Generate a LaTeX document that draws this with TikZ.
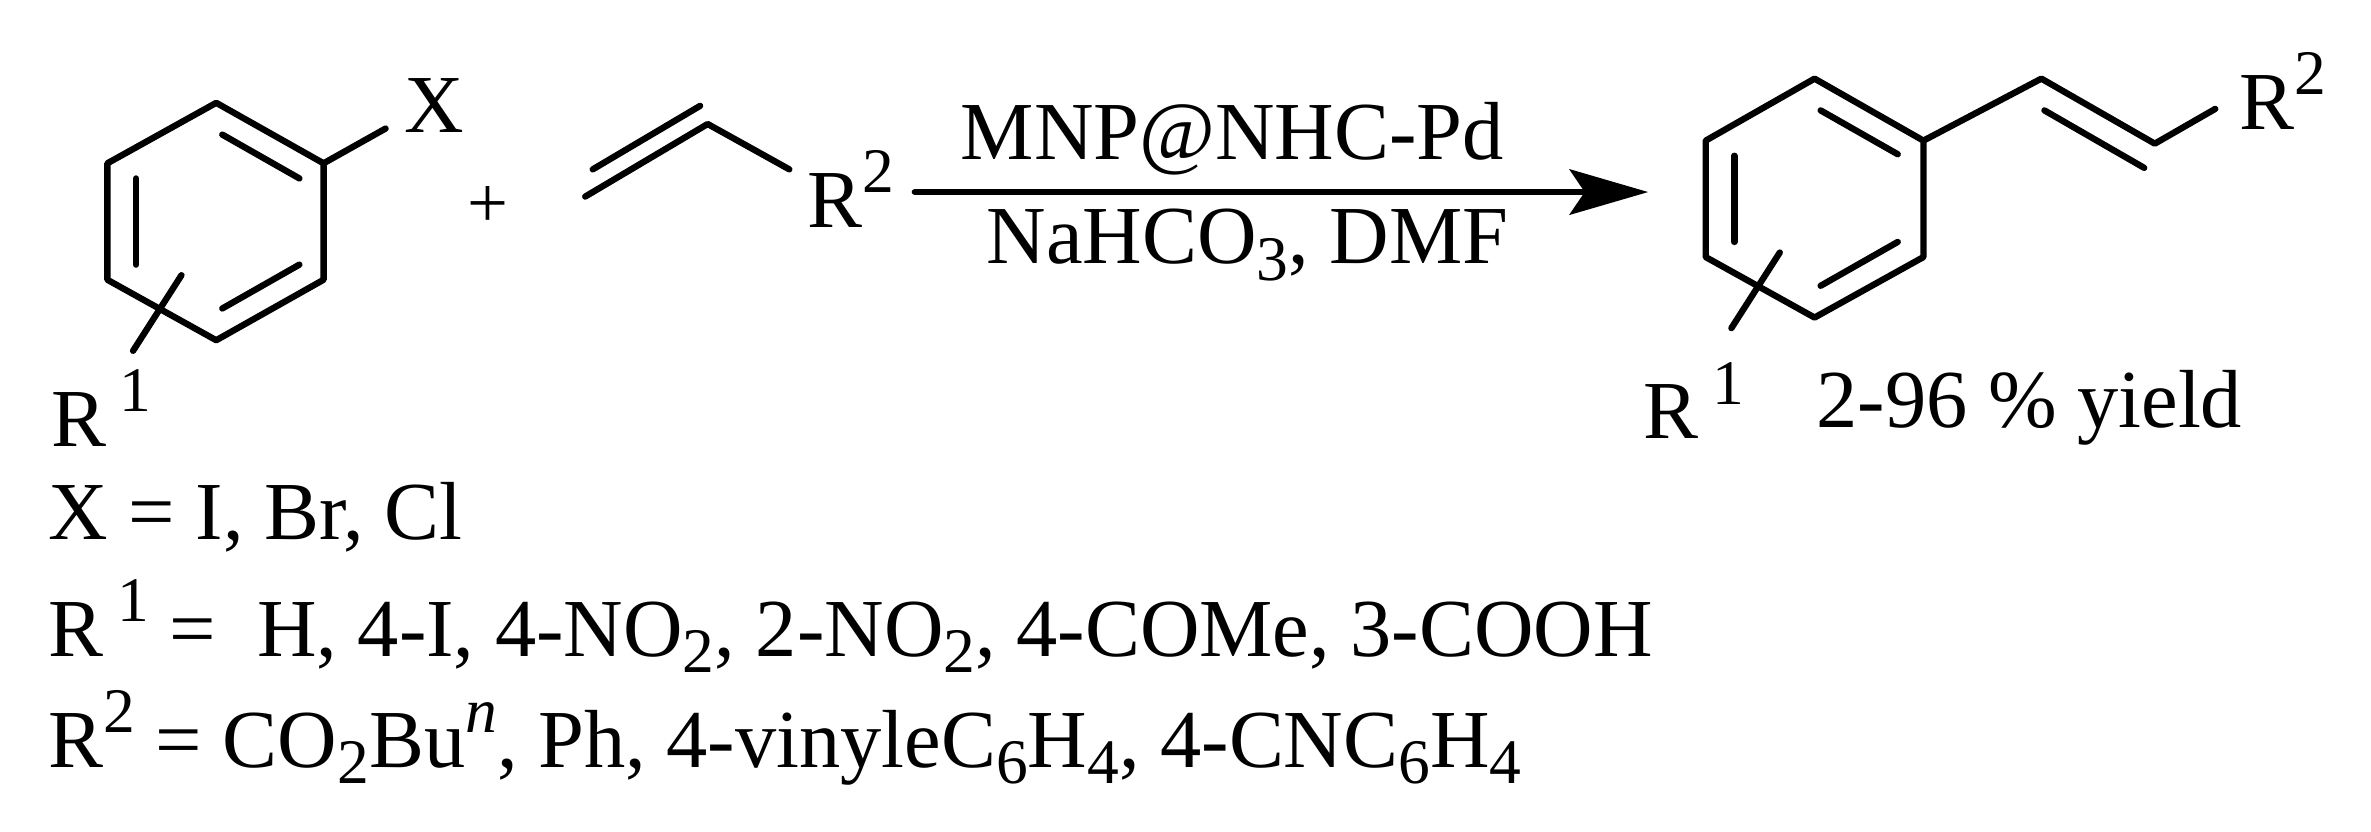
\documentclass[tikz,border=0pt]{standalone}
\usepackage{fontspec}
\setmainfont{Liberation Serif}
\usetikzlibrary{arrows.meta}
\newcommand{\myup}[1]{\raisebox{0.42em}{\fontsize{42}{46}\selectfont #1}}
\newcommand{\mydn}[1]{\raisebox{-0.2em}{\fontsize{42}{46}\selectfont #1}}
\begin{document}
\begin{tikzpicture}[x=1pt,y=-1pt,line width=4.2pt,line cap=round,line join=round,
  lbl/.style={inner sep=0pt,font=\fontsize{54.5}{62}\selectfont}]
\useasboundingbox (0,0) rectangle (1568,550);
% benzene 1
\coordinate (a1) at (143,68); \coordinate (a2) at (214,108); \coordinate (a3) at (214,185);
\coordinate (a4) at (143,225); \coordinate (a5) at (71,185); \coordinate (a6) at (71,108);
\draw (a1)--(a2)--(a3)--(a4)--(a5)--(a6)--cycle;
\draw (90,118)--(90,175);
\draw (147,89)--(198,118);
\draw (147,204)--(198,175);
\node[lbl] (X) at (287,70) {X};
\draw (a2)--(255,85);
\coordinate (r1a) at (120,182);
\draw (r1a)--(88,232);
\node[lbl] (R1a) at (67,270) {R\,\myup{1}};
\node[lbl] (plus) at (323,137) {\fontsize{48}{50}\selectfont +};
% alkene
\coordinate (v1) at (387,130); \coordinate (v2) at (468,82); \coordinate (v3) at (522,112);
\draw (v1)--(v2)--(v3);
\draw (392,112)--(463,70);
\node[lbl] (R2a) at (563,125) {R\myup{2}};
% arrow
\coordinate (s) at (605,127); \coordinate (e) at (1090,127);
\draw[-{Stealth[length=52pt,width=30pt,inset=10pt]}] (s)--(e);
\node[lbl] (top) at (815,92) {MNP@NHC-Pd};
\node[lbl] (bot) at (825,162) {NaHCO\mydn{3}, DMF};
% benzene 2
\coordinate (b1) at (1200,52); \coordinate (b2) at (1272,93); \coordinate (b3) at (1272,170);
\coordinate (b4) at (1200,210); \coordinate (b5) at (1128,170); \coordinate (b6) at (1128,93);
\draw (b1)--(b2)--(b3)--(b4)--(b5)--(b6)--cycle;
\draw (1147,103)--(1147,160);
\draw (1204,73)--(1255,102);
\draw (1204,189)--(1255,160);
\coordinate (c1) at (1350,52); \coordinate (c2) at (1425,95); \coordinate (c3) at (1465,72);
\draw (b2)--(c1)--(c2)--(c3);
\draw (1352,73)--(1418,111);
\node[lbl] (R2b) at (1510,60) {R\myup{2}};
\draw (1177,167)--(1145,217);
\node[lbl] (R1b) at (1120,265) {R\,\myup{1}};
\node[lbl] (yield) at (1342,270) {2-96 \% yield};
% conditions
\node[lbl,anchor=west] (l1) at (30,342) {X = I, Br, Cl};
\node[lbl,anchor=west] (l2) at (30,414) {R\,\myup{1} =\ \ H, 4-I, 4-NO\mydn{2}, 2-NO\mydn{2}, 4-COMe, 3-COOH};
\node[lbl,anchor=west] (l3) at (30,488) {R\myup{2} = CO\mydn{2}Bu\myup{\itshape n}, Ph, 4-vinyleC\mydn{6}H\mydn{4}, 4-CNC\mydn{6}H\mydn{4}};
\end{tikzpicture}
\end{document}
